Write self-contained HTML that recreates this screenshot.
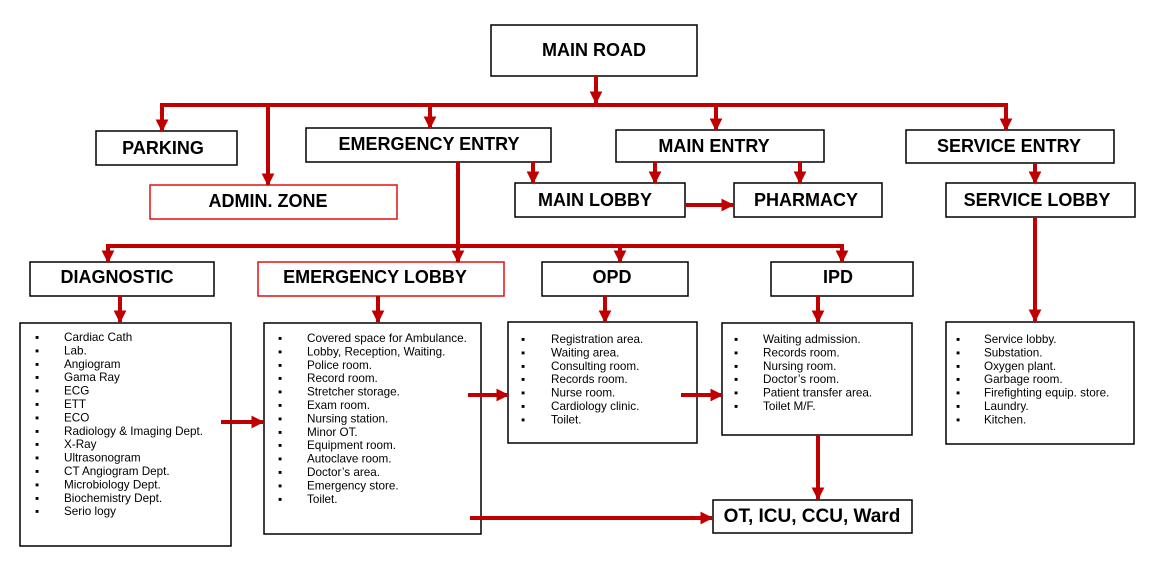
<!DOCTYPE html>
<html><head><meta charset="utf-8"><style>
html,body{margin:0;padding:0;background:#fff;}
svg{display:block;}
.t{font-family:"Liberation Sans",Arial,sans-serif;font-weight:bold;font-size:18px;fill:#000;text-anchor:middle;}
.l{font-family:"Liberation Sans",Arial,sans-serif;font-size:11.7px;fill:#000;}
.b{fill:#fff;stroke:#000;stroke-width:1.5;}
.r{fill:#fff;stroke:#e01010;stroke-width:1.5;}
.c{stroke:#c00000;stroke-width:4;fill:none;}
.a{fill:#c00000;}
</style></head><body>
<svg width="1169" height="576" viewBox="0 0 1169 576" xmlns="http://www.w3.org/2000/svg">
<defs>
<marker id="ah" viewBox="0 0 10 10" refX="9" refY="5" markerWidth="3.2" markerHeight="3.2" orient="auto" markerUnits="strokeWidth">
<path d="M0,0 L10,5 L0,10 z" class="a"/></marker>
</defs>
<!-- boxes -->
<rect class="b" x="491" y="25" width="206" height="51"/><text class="t" x="594" y="56">MAIN  ROAD</text>
<rect class="b" x="96" y="131" width="141" height="34"/><text class="t" x="163" y="154">PARKING</text>
<rect class="b" x="306" y="128" width="245" height="34"/><text class="t" x="429" y="150">EMERGENCY ENTRY</text>
<rect class="r" x="150" y="185" width="247" height="34"/><text class="t" x="268" y="207">ADMIN. ZONE</text>
<rect class="b" x="616" y="130" width="208" height="32"/><text class="t" x="714" y="152">MAIN ENTRY</text>
<rect class="b" x="906" y="130" width="208" height="33"/><text class="t" x="1009" y="152">SERVICE ENTRY</text>
<rect class="b" x="515" y="183" width="170" height="34"/><text class="t" x="595" y="206">MAIN LOBBY</text>
<rect class="b" x="734" y="183" width="148" height="34"/><text class="t" x="806" y="206">PHARMACY</text>
<rect class="b" x="946" y="183" width="189" height="34"/><text class="t" x="1037" y="206">SERVICE LOBBY</text>
<rect class="b" x="30" y="262" width="184" height="34"/><text class="t" x="117" y="283">DIAGNOSTIC</text>
<rect class="r" x="258" y="262" width="246" height="34"/><text class="t" x="375" y="283">EMERGENCY LOBBY</text>
<rect class="b" x="542" y="262" width="146" height="34"/><text class="t" x="612" y="283">OPD</text>
<rect class="b" x="771" y="262" width="142" height="34"/><text class="t" x="838" y="283">IPD</text>
<rect class="b" x="713" y="500" width="199" height="33"/><text class="t" x="812" y="522" style="font-size:19px">OT, ICU, CCU, Ward</text>
<!-- lists -->
<rect class="b" x="20" y="323" width="211" height="223"/>
<rect class="b" x="264" y="323" width="217" height="211"/>
<rect class="b" x="508" y="322" width="189" height="121"/>
<rect class="b" x="722" y="323" width="190" height="112"/>
<rect class="b" x="946" y="322" width="188" height="122"/>
<!-- connectors -->
<g class="c">
<path d="M596,76 V103" marker-end="url(#ah)"/>
<path d="M162,130 V105 H1006 V130" />
<path d="M162,105 V131" marker-end="url(#ah)"/>
<path d="M268,105 V185" marker-end="url(#ah)"/>
<path d="M430,105 V128" marker-end="url(#ah)"/>
<path d="M716,105 V130" marker-end="url(#ah)"/>
<path d="M1006,105 V130" marker-end="url(#ah)"/>
<path d="M533,162 V183" marker-end="url(#ah)"/>
<path d="M655,162 V183" marker-end="url(#ah)"/>
<path d="M800,162 V183" marker-end="url(#ah)"/>
<path d="M685,205 H733" marker-end="url(#ah)"/>
<path d="M1035,163 V183" marker-end="url(#ah)"/>
<path d="M1035,217 V321" marker-end="url(#ah)"/>
<path d="M458,162 V262" marker-end="url(#ah)"/>
<path d="M108,262 V246 H842 V262"/>
<path d="M108,246 V262" marker-end="url(#ah)"/>
<path d="M620,246 V262" marker-end="url(#ah)"/>
<path d="M842,246 V262" marker-end="url(#ah)"/>
<path d="M120,296 V322" marker-end="url(#ah)"/>
<path d="M378,296 V322" marker-end="url(#ah)"/>
<path d="M605,296 V322" marker-end="url(#ah)"/>
<path d="M818,296 V322" marker-end="url(#ah)"/>
<path d="M221,422 H263" marker-end="url(#ah)"/>
<path d="M468,395 H508" marker-end="url(#ah)"/>
<path d="M681,395 H722" marker-end="url(#ah)"/>
<path d="M818,435 V499" marker-end="url(#ah)"/>
<path d="M470,518 H712" marker-end="url(#ah)"/>
</g>
<g class="l">
<text x="35" y="341">▪<tspan x="64">Cardiac Cath</tspan></text>
<text x="35" y="354.4">▪<tspan x="64">Lab.</tspan></text>
<text x="35" y="367.8">▪<tspan x="64">Angiogram</tspan></text>
<text x="35" y="381.2">▪<tspan x="64">Gama Ray</tspan></text>
<text x="35" y="394.6">▪<tspan x="64">ECG</tspan></text>
<text x="35" y="408">▪<tspan x="64">ETT</tspan></text>
<text x="35" y="421.4">▪<tspan x="64">ECO</tspan></text>
<text x="35" y="434.8">▪<tspan x="64">Radiology &amp; Imaging Dept.</tspan></text>
<text x="35" y="448.2">▪<tspan x="64">X-Ray</tspan></text>
<text x="35" y="461.6">▪<tspan x="64">Ultrasonogram</tspan></text>
<text x="35" y="475">▪<tspan x="64">CT Angiogram Dept.</tspan></text>
<text x="35" y="488.4">▪<tspan x="64">Microbiology Dept.</tspan></text>
<text x="35" y="501.8">▪<tspan x="64">Biochemistry Dept.</tspan></text>
<text x="35" y="515.2">▪<tspan x="64">Serio logy</tspan></text>

<text x="278" y="342">▪<tspan x="307">Covered space for Ambulance.</tspan></text>
<text x="278" y="355.4">▪<tspan x="307">Lobby, Reception, Waiting.</tspan></text>
<text x="278" y="368.8">▪<tspan x="307">Police room.</tspan></text>
<text x="278" y="382.2">▪<tspan x="307">Record room.</tspan></text>
<text x="278" y="395.6">▪<tspan x="307">Stretcher storage.</tspan></text>
<text x="278" y="409">▪<tspan x="307">Exam room.</tspan></text>
<text x="278" y="422.4">▪<tspan x="307">Nursing station.</tspan></text>
<text x="278" y="435.8">▪<tspan x="307">Minor OT.</tspan></text>
<text x="278" y="449.2">▪<tspan x="307">Equipment room.</tspan></text>
<text x="278" y="462.6">▪<tspan x="307">Autoclave room.</tspan></text>
<text x="278" y="476">▪<tspan x="307">Doctor’s area.</tspan></text>
<text x="278" y="489.4">▪<tspan x="307">Emergency store.</tspan></text>
<text x="278" y="502.8">▪<tspan x="307">Toilet.</tspan></text>

<text x="521" y="343">▪<tspan x="551">Registration area.</tspan></text>
<text x="521" y="356.4">▪<tspan x="551">Waiting area.</tspan></text>
<text x="521" y="369.8">▪<tspan x="551">Consulting room.</tspan></text>
<text x="521" y="383.2">▪<tspan x="551">Records room.</tspan></text>
<text x="521" y="396.6">▪<tspan x="551">Nurse room.</tspan></text>
<text x="521" y="410">▪<tspan x="551">Cardiology clinic.</tspan></text>
<text x="521" y="423.4">▪<tspan x="551">Toilet.</tspan></text>

<text x="734" y="343">▪<tspan x="763">Waiting admission.</tspan></text>
<text x="734" y="356.4">▪<tspan x="763">Records room.</tspan></text>
<text x="734" y="369.8">▪<tspan x="763">Nursing room.</tspan></text>
<text x="734" y="383.2">▪<tspan x="763">Doctor’s room.</tspan></text>
<text x="734" y="396.6">▪<tspan x="763">Patient transfer area.</tspan></text>
<text x="734" y="410">▪<tspan x="763">Toilet M/F.</tspan></text>

<text x="956" y="343">▪<tspan x="984">Service lobby.</tspan></text>
<text x="956" y="356.4">▪<tspan x="984">Substation.</tspan></text>
<text x="956" y="369.8">▪<tspan x="984">Oxygen plant.</tspan></text>
<text x="956" y="383.2">▪<tspan x="984">Garbage room.</tspan></text>
<text x="956" y="396.6">▪<tspan x="984">Firefighting equip. store.</tspan></text>
<text x="956" y="410">▪<tspan x="984">Laundry.</tspan></text>
<text x="956" y="423.4">▪<tspan x="984">Kitchen.</tspan></text>
</g>
</svg>
</body></html>
